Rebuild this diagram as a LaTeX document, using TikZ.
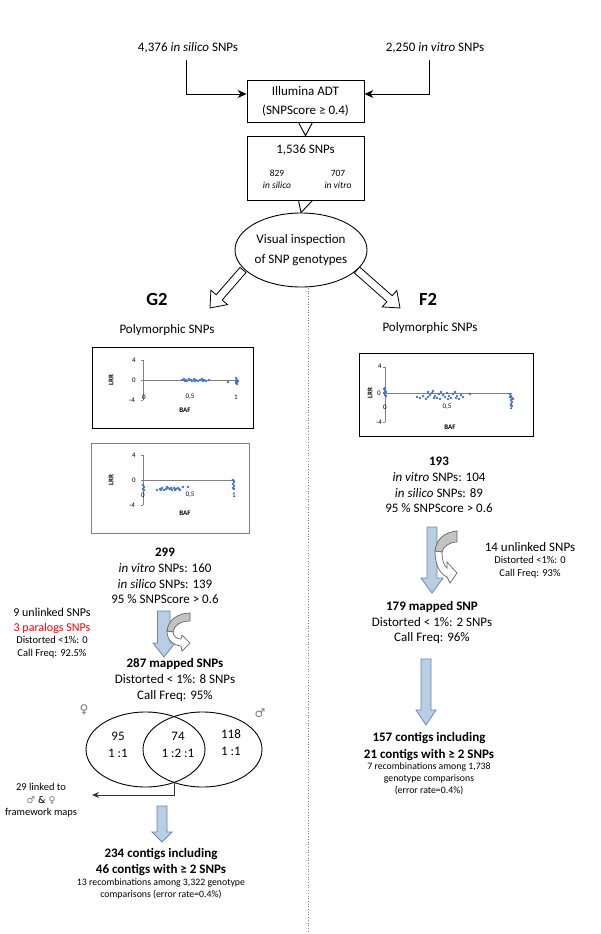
\documentclass[tikz,border=0pt]{standalone}
\usepackage{fontspec}
\setmainfont{Carlito}
\newfontfamily\symfont{DejaVu Sans}
\usetikzlibrary{shapes.geometric,arrows.meta}
\definecolor{bluefill}{RGB}{185,205,229}
\definecolor{blueline}{RGB}{105,135,175}
\definecolor{dotblue}{RGB}{68,114,196}
\definecolor{grayfill}{RGB}{195,195,195}
\definecolor{grayline}{RGB}{100,100,100}
\definecolor{symgray}{RGB}{120,120,120}
\begin{document}
\begin{tikzpicture}[x=1pt,y=-1pt,
  txt/.style={inner sep=0pt, align=center, font=\fontsize{13}{15.7}\selectfont},
  mid/.style={inner sep=0pt, align=center, font=\fontsize{12}{15}\selectfont},
  sml/.style={inner sep=0pt, align=center, font=\fontsize{10.5}{13}\selectfont},
  tny/.style={inner sep=0pt, align=center, font=\fontsize{9.8}{11.8}\selectfont},
  tick/.style={inner sep=0pt, font=\fontsize{7}{8}\selectfont},
  axlab/.style={inner sep=0pt, font=\bfseries\fontsize{7}{8}\selectfont},
  bluearrow/.style={fill=bluefill, draw=blueline, line width=0.8pt},
  hollow/.style={fill=white, draw=black, line width=0.8pt},
  conn/.style={line width=0.9pt, -{Stealth[length=9pt,width=8pt,inset=3pt]}},
  chartframe/.style={line width=0.9pt},
  axis/.style={draw=gray, line width=0.5pt},
  pt/.style={fill=dotblue},
]
\fill[white] (0,0) rectangle (600,934);
\useasboundingbox (0,0) rectangle (600,934);

% ---------- top ----------
\node[txt] (insil) at (188,48) {4,376 \textit{in silico} SNPs};
\node[txt] (invit) at (435,48) {2,250 \textit{in vitro} SNPs};
\node[draw, line width=0.9pt, minimum width=117pt, minimum height=42pt, inner sep=0pt, align=center,
      font=\fontsize{13}{19}\selectfont] (adt) at (305.5,101) {Illumina ADT\\(SNPScore ≥ 0.4)};
\draw[conn] ([xshift=-2pt,yshift=-6pt]insil.south) |- ([yshift=7pt]adt.west);
\draw[conn] ([xshift=-6pt,yshift=-6pt]invit.south) |- ([yshift=7pt]adt.east);

\node[draw, line width=0.9pt, minimum width=117pt, minimum height=64pt, inner sep=0pt] (box2) at (305.5,168) {};
\node[txt] (n1536) at (305.5,150) {1,536 SNPs};
\node[inner sep=0pt, align=center, font=\fontsize{9.5}{12}\selectfont] (n829) at (277,179) {829\\\textit{in silico}};
\node[inner sep=0pt, align=center, font=\fontsize{9.5}{12}\selectfont] (n707) at (338,179) {707\\\textit{in vitro}};
\draw[line width=0.9pt] ([xshift=-7pt]adt.south) -- (box2.north) -- ([xshift=7pt]adt.south);

% hollow arrows (under the ellipse)
\draw[hollow] (240.0,267.4) -- (216.2,294.8) -- (210.9,290.2) -- (210,308) -- (227.5,304.6) -- (222.2,300.0) -- (246.0,272.6) -- cycle;
\draw[hollow] (359.6,267.0) -- (392.1,295.7) -- (396.8,290.5) -- (400,308) -- (382.2,306.9) -- (386.9,301.7) -- (354.4,273.0) -- cycle;

\node[draw, fill=white, ellipse, line width=0.9pt, minimum width=132pt, minimum height=74pt, inner sep=0pt,
      align=center, font=\fontsize{13}{20}\selectfont] (vis) at (301,250) {Visual inspection\\of SNP genotypes};
\draw[line width=0.9pt] ([xshift=-7pt]box2.south) -- (vis.north) -- ([xshift=7pt]box2.south);

% dotted divider
\coordinate (dtop) at (308,288);
\coordinate (dbot) at (308,932);
\draw[dotted, line width=0.7pt, gray] (dtop) -- (dbot);

\node[inner sep=0pt, font=\bfseries\fontsize{18.5}{20}\selectfont] (g2) at (157,299) {G2};
\node[inner sep=0pt, font=\bfseries\fontsize{18.5}{20}\selectfont] (f2) at (428,299) {F2};
\node[txt] (polyL) at (167,330) {Polymorphic SNPs};
\node[txt] (polyR) at (430,328) {Polymorphic SNPs};

% ---------- chart 1 ----------
\draw[chartframe] (92,347) rectangle (253,428);
\draw[axis] (143,360) -- (143,400);
\draw[axis] (143,380) -- (237,380);
\foreach \yy in {360,380,400} \draw[axis] (141,\yy) -- (143,\yy);
\node[tick] (c1y4) at (134,360) {4};
\node[tick] (c1y0) at (134,380) {0};
\node[tick] (c1ym) at (132,400) {-4};
\node[tick] (c1x0) at (144,397) {0};
\node[tick] (c1x5) at (190,397) {0,5};
\node[tick] (c1x1) at (236,397) {1};
\node[axlab] (c1baf) at (185,410) {BAF};
\node[axlab, rotate=90] (c1lrr) at (111,380) {LRR};
\foreach \px/\py in {182/380,184/379,186/380,187/381,189/379,191/380,192/381,194/379,196/380,198/381,200/380,202/379,204/380,206/381,209/380,228/382,236/378,237/380,236/381,237/382,236/383,237/384,238/381,185/381,195/381,203/381}
  \fill[pt] (\px,\py) circle[radius=1.3pt];

% ---------- chart 2 ----------
\draw[chartframe, draw=gray] (91,443) rectangle (249,533);
\draw[axis] (143,455) -- (143,505);
\draw[axis] (143,480) -- (235,480);
\foreach \yy in {455,480,505} \draw[axis] (141,\yy) -- (143,\yy);
\node[tick] (c2y4) at (134,455) {4};
\node[tick] (c2y0) at (134,480) {0};
\node[tick] (c2ym) at (132,505) {-4};
\node[tick] (c2x0) at (143,495) {0};
\node[tick] (c2x5) at (190,495) {0,5};
\node[tick] (c2x1) at (234,495) {1};
\node[axlab] (c2baf) at (185,513) {BAF};
\node[axlab, rotate=90] (c2lrr) at (111,480) {LRR};
\foreach \px/\py in {143/485,144/487,143/489,144/490,157/490,160/489,162/488,164/490,166/489,168/488,170/489,172/490,174/488,176/489,178/488,180/490,183/487,188/487,161/490,167/487,171/488,175/490,179/489,233/480,234/482,233/484,234/486,233/488,234/489}
  \fill[pt] (\px,\py) circle[radius=1.3pt];

% ---------- chart 3 ----------
\draw[chartframe] (359,353) rectangle (533,436);
\draw[axis] (385,367) -- (385,422);
\draw[axis] (385,393) -- (512,393);
\foreach \yy in {367,393,422} \draw[axis] (383,\yy) -- (385,\yy);
\node[tick] (c3y4) at (380,366) {4};
\node[tick] (c3y0) at (379,393) {0};
\node[tick] (c3ym) at (379,422) {-4};
\node[tick] (c3x0) at (385,407) {0};
\node[tick] (c3x5) at (447,407) {0,5};
\node[tick] (c3x1) at (511,407) {1};
\node[axlab] (c3baf) at (450,427) {BAF};
\node[axlab, rotate=90] (c3lrr) at (370,393) {LRR};
\foreach \px/\py in {384/389,385/391,386/392,384/393,385/395,386/396,385/388,417/397,420/398,423/396,426/399,428/397,430/395,432/393,433/391,435/396,437/398,439/394,441/392,443/395,445/397,447/393,449/396,451/398,453/394,455/392,457/396,459/399,461/395,463/397,470/394,428/392,434/398,440/399,448/399,456/398,510/394,511/396,512/398,511/400,512/402,511/404,512/406,513/399,510/397}
  \fill[pt] (\px,\py) circle[radius=1.3pt];

% ---------- right column ----------
\node[txt] (r193) at (439,485) {\textbf{193}\\\textit{in vitro} SNPs: 104\\\textit{in silico} SNPs: 89\\95 \% SNPScore > 0.6};
\draw[bluearrow] (427,527) -- (437,527) -- (437,578) -- (443,578) -- (432,593) -- (421,578) -- (427,578) -- cycle;
\draw[fill=grayfill, draw=grayline, line width=0.7pt] (457,531) .. controls (444,532) and (436,540) .. (435,551) -- (442,552) .. controls (443,547) and (449,542) .. (457,542) -- cycle;
\draw[fill=white, draw=grayline, line width=0.7pt] (435,551) .. controls (435,565) and (440,574) .. (447,577) -- (450,583) -- (457,573) -- (447,562) -- (447,568) .. controls (444,566) and (442,560) .. (442,552) -- cycle;
\node[txt] (r14) at (530,547) {14 unlinked SNPs};
\node[sml] (r14b) at (530,567.5) {Distorted <1\%: 0\\Call Freq: 93\%};
\node[txt] (r179) at (432,622.5) {\textbf{179 mapped SNP}\\Distorted < 1\%: 2 SNPs\\Call Freq: 96\%};
\draw[bluearrow] (421,659) -- (431,659) -- (431,710) -- (436,710) -- (426,725) -- (416,710) -- (421,710) -- cycle;
\node[inner sep=0pt, align=center, font=\bfseries\fontsize{13}{17}\selectfont] (r157) at (429,746.5) {157 contigs including\\21 contigs with ≥ 2 SNPs};
\node[tny] (r157b) at (429,778.5) {7 recombinations among 1,738\\genotype comparisons\\(error rate=0.4\%)};

% ---------- left column ----------
\node[txt] (l299) at (165,576) {\textbf{299}\\\textit{in vitro} SNPs: 160\\\textit{in silico} SNPs: 139\\95 \% SNPScore > 0.6};
\node[mid] (l9) at (52,620.5) {9 unlinked SNPs\\\textcolor{red}{3 paralogs SNPs}};
\node[sml] (l9b) at (52,647.5) {Distorted <1\%: 0\\Call Freq: 92.5\%};
\draw[bluearrow] (157.5,611) -- (170,611) -- (170,643) -- (175,643) -- (164,657) -- (153,643) -- (157.5,643) -- cycle;
\draw[fill=grayfill, draw=grayline, line width=0.7pt] (190,613) .. controls (178,613) and (168,620) .. (167,631) -- (173,632) .. controls (174,625) and (181,621) .. (190,621) -- cycle;
\draw[fill=white, draw=grayline, line width=0.7pt] (167,631) .. controls (167,640) and (173,645) .. (181,646) -- (182,651) -- (190,643) -- (182,635) -- (181,639) .. controls (177,639) and (173,636) .. (173,632) -- cycle;
\node[txt] (l287) at (175,680) {\textbf{287 mapped SNPs}\\Distorted < 1\%: 8 SNPs\\Call Freq: 95\%};

% Venn
\node[draw, ellipse, line width=0.9pt, minimum width=119pt, minimum height=75pt, inner sep=0pt] (fem) at (145.5,749.5) {};
\node[draw, ellipse, line width=0.9pt, minimum width=119pt, minimum height=75pt, inner sep=0pt] (mal) at (202.5,749.5) {};
\node[inner sep=0pt, align=center, font=\fontsize{13}{17}\selectfont] (v95) at (118,744.5) {95\\1 :1};
\node[inner sep=0pt, align=center, font=\fontsize{13}{17}\selectfont] (v74) at (178,744.5) {74\\1 :2 :1};
\node[inner sep=0pt, align=center, font=\fontsize{13}{17}\selectfont] (v118) at (231,742.5) {118\\1 :1};
\node[inner sep=0pt, text=symgray, font=\symfont\fontsize{12}{14}\selectfont] (fsym) at (84,710) {♀};
\node[inner sep=0pt, text=symgray, font=\symfont\fontsize{12}{14}\selectfont] (msym) at (260,713) {♂};
\coordinate (vb) at (174,782);
\coordinate (vend) at (92,795);
\draw[line width=0.9pt, draw=black!80, -{Stealth[length=7pt,width=6pt]}] (vb) |- (vend);
\node[inner sep=0pt, align=center, font=\fontsize{10.5}{12.5}\selectfont] (l29) at (41,800.5) {29 linked to\\{\symfont\fontsize{9.5}{12}\selectfont\textcolor{symgray}{♂} \& \textcolor{symgray}{♀}}\\framework maps};
\draw[bluearrow] (157,806) -- (167,806) -- (167,832) -- (172,832) -- (162,842) -- (152,832) -- (157,832) -- cycle;
\node[inner sep=0pt, align=center, font=\bfseries\fontsize{13}{16}\selectfont] (l234) at (161,862) {234 contigs including\\46 contigs with ≥ 2 SNPs};
\node[tny] (l234b) at (161,889) {13 recombinations among 3,322 genotype\\comparisons (error rate=0.4\%)};
\end{tikzpicture}
\end{document}
